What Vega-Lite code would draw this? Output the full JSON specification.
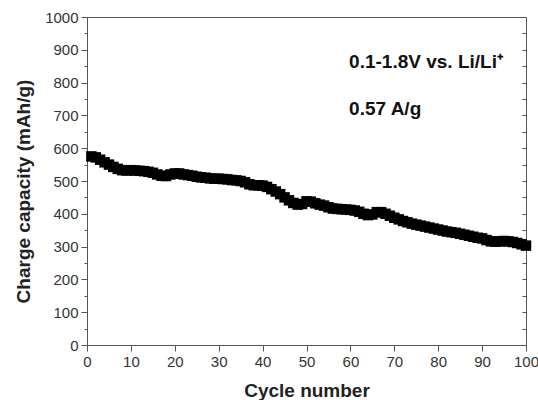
{
  "$schema": "https://vega.github.io/schema/vega-lite/v6.json",
  "width": 439,
  "height": 328,
  "autosize": {"type": "none"},
  "padding": {"left": 87, "top": 17, "right": 12, "bottom": 55},
  "config": {"view": {"stroke": "#555", "strokeWidth": 1}, "font": "Liberation Sans"},
  "datasets": {
    "cap": [
      {"cycle":1,"capacity":575},{"cycle":2,"capacity":572},{"cycle":3,"capacity":565},{"cycle":4,"capacity":557},{"cycle":5,"capacity":550},
      {"cycle":6,"capacity":543},{"cycle":7,"capacity":537},{"cycle":8,"capacity":533},{"cycle":9,"capacity":532},{"cycle":10,"capacity":533},
      {"cycle":11,"capacity":532},{"cycle":12,"capacity":531},{"cycle":13,"capacity":530},{"cycle":14,"capacity":528},{"cycle":15,"capacity":525},
      {"cycle":16,"capacity":520},{"cycle":17,"capacity":516},{"cycle":18,"capacity":515},{"cycle":19,"capacity":520},{"cycle":20,"capacity":523},
      {"cycle":21,"capacity":523},{"cycle":22,"capacity":520},{"cycle":23,"capacity":518},{"cycle":24,"capacity":516},{"cycle":25,"capacity":513},
      {"cycle":26,"capacity":511},{"cycle":27,"capacity":510},{"cycle":28,"capacity":508},{"cycle":29,"capacity":507},{"cycle":30,"capacity":507},
      {"cycle":31,"capacity":506},{"cycle":32,"capacity":505},{"cycle":33,"capacity":503},{"cycle":34,"capacity":502},{"cycle":35,"capacity":500},
      {"cycle":36,"capacity":496},{"cycle":37,"capacity":490},{"cycle":38,"capacity":487},{"cycle":39,"capacity":487},{"cycle":40,"capacity":486},
      {"cycle":41,"capacity":482},{"cycle":42,"capacity":475},{"cycle":43,"capacity":468},{"cycle":44,"capacity":460},{"cycle":45,"capacity":450},
      {"cycle":46,"capacity":441},{"cycle":47,"capacity":433},{"cycle":48,"capacity":428},{"cycle":49,"capacity":430},{"cycle":50,"capacity":438},
      {"cycle":51,"capacity":437},{"cycle":52,"capacity":432},{"cycle":53,"capacity":428},{"cycle":54,"capacity":425},{"cycle":55,"capacity":420},
      {"cycle":56,"capacity":416},{"cycle":57,"capacity":415},{"cycle":58,"capacity":414},{"cycle":59,"capacity":413},{"cycle":60,"capacity":412},
      {"cycle":61,"capacity":410},{"cycle":62,"capacity":406},{"cycle":63,"capacity":400},{"cycle":64,"capacity":396},{"cycle":65,"capacity":398},
      {"cycle":66,"capacity":405},{"cycle":67,"capacity":405},{"cycle":68,"capacity":400},{"cycle":69,"capacity":394},{"cycle":70,"capacity":388},
      {"cycle":71,"capacity":383},{"cycle":72,"capacity":378},{"cycle":73,"capacity":374},{"cycle":74,"capacity":370},{"cycle":75,"capacity":367},
      {"cycle":76,"capacity":364},{"cycle":77,"capacity":361},{"cycle":78,"capacity":358},{"cycle":79,"capacity":355},{"cycle":80,"capacity":352},
      {"cycle":81,"capacity":349},{"cycle":82,"capacity":346},{"cycle":83,"capacity":344},{"cycle":84,"capacity":342},{"cycle":85,"capacity":339},
      {"cycle":86,"capacity":336},{"cycle":87,"capacity":333},{"cycle":88,"capacity":330},{"cycle":89,"capacity":327},{"cycle":90,"capacity":325},
      {"cycle":91,"capacity":320},{"cycle":92,"capacity":316},{"cycle":93,"capacity":315},{"cycle":94,"capacity":316},{"cycle":95,"capacity":317},
      {"cycle":96,"capacity":316},{"cycle":97,"capacity":314},{"cycle":98,"capacity":311},{"cycle":99,"capacity":307},{"cycle":100,"capacity":303}
    ],
    "notes": [
      {"cycle": 59.7, "capacity": 863, "label": "0.1-1.8V vs. Li/Li⁺"},
      {"cycle": 59.7, "capacity": 718, "label": "0.57 A/g"}
    ]
  },
  "layer": [
    {
      "data": {"name": "cap"},
      "mark": {"type": "square", "filled": true, "color": "black", "size": 110, "opacity": 1},
      "encoding": {
        "x": {
          "field": "cycle", "type": "quantitative",
          "scale": {"domain": [0, 100], "nice": false, "zero": false},
          "axis": {
            "title": "Cycle number", "format": "d",
            "values": [0,5,10,15,20,25,30,35,40,45,50,55,60,65,70,75,80,85,90,95,100],
            "labelExpr": "datum.value % 10 == 0 ? datum.label : ''",
            "tickSize": {"condition": {"test": "datum.value % 10 == 0", "value": 6}, "value": 3},
            "labelOverlap": false, "labelBound": false, "labelFlush": false,
            "grid": false, "domainColor": "#555", "tickColor": "#555",
            "labelFont": "Liberation Sans", "labelFontSize": 15, "labelColor": "#333", "labelPadding": 3,
            "titleFont": "Liberation Sans", "titleFontSize": 19, "titleFontWeight": "bold", "titleColor": "#222", "titlePadding": 12
          }
        },
        "y": {
          "field": "capacity", "type": "quantitative",
          "scale": {"domain": [0, 1000], "nice": false, "zero": false},
          "axis": {
            "title": "Charge capacity (mAh/g)", "format": "d",
            "values": [0,50,100,150,200,250,300,350,400,450,500,550,600,650,700,750,800,850,900,950,1000],
            "labelExpr": "datum.value % 100 == 0 ? datum.label : ''",
            "tickSize": {"condition": {"test": "datum.value % 100 == 0", "value": 6}, "value": 3},
            "labelOverlap": false, "labelBound": false, "labelFlush": false,
            "grid": false, "domainColor": "#555", "tickColor": "#555",
            "labelFont": "Liberation Sans", "labelFontSize": 15, "labelColor": "#333", "labelPadding": 3,
            "titleFont": "Liberation Sans", "titleFontSize": 19, "titleFontWeight": "bold", "titleColor": "#222", "titlePadding": 11,
            "titleY": 174
          }
        }
      }
    },
    {
      "data": {"name": "cap"},
      "mark": {"type": "point", "opacity": 0},
      "encoding": {
        "x": {"field": "cycle", "type": "quantitative"},
        "y": {
          "field": "capacity", "type": "quantitative",
          "axis": {
            "orient": "right", "title": null, "labels": false, "domain": false, "grid": false,
            "values": [50,100,150,200,250,300,350,400,450,500,550,600,650,700,750,800,850,900,950],
            "tickSize": -4, "tickColor": "#555"
          }
        }
      }
    },
    {
      "data": {"name": "notes"},
      "mark": {"type": "text", "align": "left", "baseline": "middle", "fontWeight": "bold", "fontSize": 19, "font": "Liberation Sans", "color": "#111"},
      "encoding": {
        "x": {"field": "cycle", "type": "quantitative"},
        "y": {"field": "capacity", "type": "quantitative", "axis": null},
        "text": {"field": "label"}
      }
    }
  ],
  "resolve": {"axis": {"y": "independent"}}
}
